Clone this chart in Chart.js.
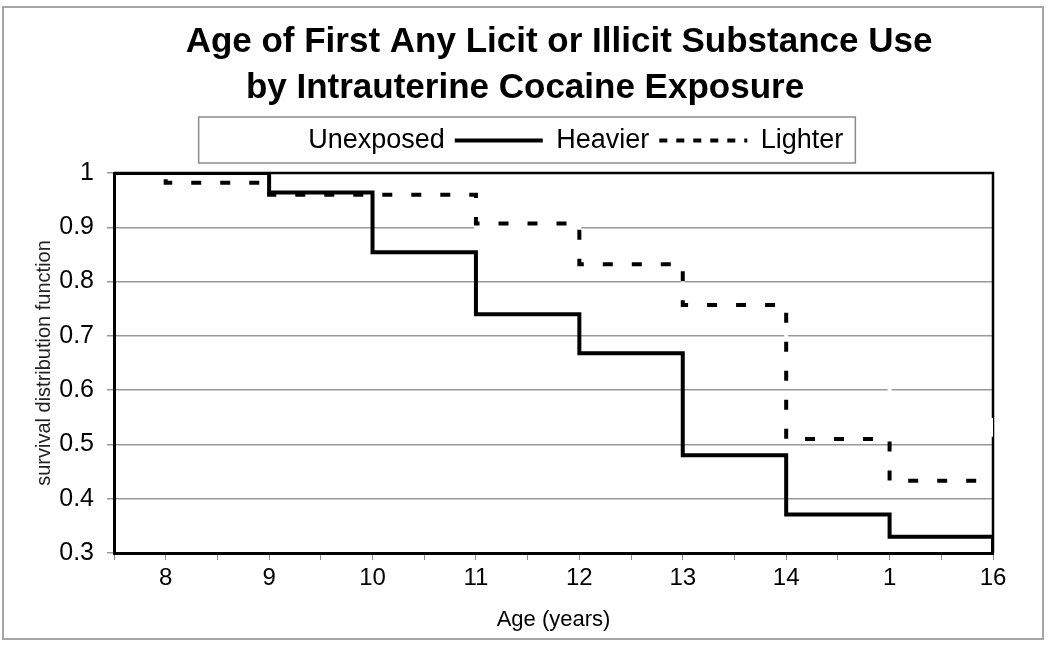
<!DOCTYPE html>
<html>
<head>
<meta charset="utf-8">
<script src="https://cdn.jsdelivr.net/npm/chart.js@4.4.1/dist/chart.umd.min.js"></script>
<style>
html, body { margin: 0; padding: 0; background: #fff; }
canvas { display: block; }
</style>
</head>
<body>
<canvas id="chart" width="1050" height="648"></canvas>
<script>
// survival curves (step drops at each age)
var unexposedAge  = [7.5, 9, 10, 11, 12, 13, 14, 15, 16]
var unexposedSurv = [1, 0.97, 0.95, 0.90, 0.84, 0.76, 0.66, 0.545, 0.514]
var heavierAge    = [7.5, 9, 10, 11, 12, 13, 14, 15, 16]
var heavierSurv   = [1, 0.964, 0.854, 0.74, 0.668, 0.48, 0.371, 0.33, 0.30]
var lighterAge    = [7.5, 8, 9, 11, 12, 13, 14, 15, 16]
var lighterSurv   = [1, 0.982, 0.96, 0.907, 0.832, 0.757, 0.51, 0.433, 0.433]

var ageTicks      = [8, 9, 10, 11, 12, 13, 14, 15, 16]
var ageTickLabels = ['8', '9', '10', '11', '12', '13', '14', '1', '16']

var FONT = '"Liberation Sans", Arial, sans-serif'

function points(xs, ys) {
	return xs.map(function (x, i) { return { x: x, y: ys[i] } })
}

var frame = {
	id: 'frame'
	, beforeDraw: function (chart) {
		var c = chart.ctx
		c.save()
		c.fillStyle = '#fff'
		c.fillRect(0, 0, chart.width, chart.height)
		c.strokeStyle = '#a6a6a6'
		c.lineWidth = 2
		c.strokeRect(3, 7, 1040, 632)
		// box round the legend
		var boxes = chart.legend.legendHitBoxes
		if (boxes && boxes.length) {
			var first = boxes[0], last = boxes[boxes.length - 1]
			c.strokeStyle = '#8c8c8c'
			c.lineWidth = 1.5
			c.strokeRect(first.left - 8, chart.legend.top, last.left + last.width + 12 - (first.left - 8), chart.legend.height - 1)
		}
		c.restore()
	}
	, beforeDatasetsDraw: function (chart) {
		var a = chart.chartArea, c = chart.ctx
		c.save()
		c.strokeStyle = '#000'
		c.lineWidth = 2.5
		c.beginPath()
		c.moveTo(a.left, a.top)
		c.lineTo(a.right, a.top)
		c.lineTo(a.right, a.bottom)
		c.stroke()
		c.restore()
	}
}

var chart = new Chart(document.getElementById('chart'), {
	type: 'line',
	data: {
		datasets: [
			{ label: 'Unexposed', data: points(unexposedAge, unexposedSurv), borderColor: '#fff', backgroundColor: '#fff', borderWidth: 4, stepped: true, pointRadius: 0, fill: false, order: 3 },
			{ label: 'Heavier', data: points(heavierAge, heavierSurv), borderColor: '#000', backgroundColor: '#000', borderWidth: 4, stepped: true, pointRadius: 0, fill: false, order: 2 },
			{ label: 'Lighter', data: points(lighterAge, lighterSurv), borderColor: '#000', backgroundColor: '#000', borderWidth: 4, borderDash: [10, 19], stepped: true, pointRadius: 0, fill: false, order: 1 }
		]
	},
	options: {
		responsive: false,
		animation: false,
		layout: { padding: 0 },
		plugins: {
			tooltip: { enabled: false },
			title: {
				display: true,
				text: ['       Age of First Any Licit or Illicit Substance Use', 'by Intrauterine Cocaine Exposure'],
				color: '#000',
				font: { family: FONT, size: 35, weight: 'bold', lineHeight: 1.3 },
				padding: { top: 20, bottom: 6 }
			},
			legend: {
				position: 'top',
				labels: {
					color: '#000',
					font: { family: FONT, size: 27 },
					usePointStyle: true,
					pointStyle: 'line',
					pointStyleWidth: 88,
					padding: 10,
					sort: function (a, b) { return a.datasetIndex - b.datasetIndex },
					generateLabels: function (chart) {
						return Chart.defaults.plugins.legend.labels.generateLabels(chart).map(function (item) {
							var ds = chart.data.datasets[item.datasetIndex]
							item.lineWidth = 4
							item.strokeStyle = ds.borderColor
							item.lineDash = ds.borderDash ? [8, 9] : []
							return item
						})
					}
				}
			}
		},
		scales: {
			x: {
				type: 'linear',
				min: 7.5,
				max: 16,
				afterFit: function (scale) { scale.height = 95 },
				ticks: {
					stepSize: 0.5,
					autoSkip: false,
					maxRotation: 0,
					color: '#000',
					padding: 4,
					font: { family: FONT, size: 24 },
					callback: function (value) {
						var i = ageTicks.indexOf(value)
						return i < 0 ? '' : ageTickLabels[i]
					}
				},
				grid: { drawOnChartArea: false, color: '#888', lineWidth: 1, tickLength: 7 },
				border: { color: '#000', width: 3 },
				title: {
					display: true,
					text: 'Age (years)',
					color: '#000',
					font: { family: FONT, size: 22 },
					padding: { top: 0, bottom: 15 }
				}
			},
			// empty top and right bands, only there to place the plot area
			xTop: {
				type: 'linear', position: 'top', min: 7.5, max: 16,
				afterFit: function (scale) { scale.height = 9 },
				ticks: { display: false }, grid: { display: false }, border: { display: false }
			},
			yRight: {
				type: 'linear', position: 'right', min: 0.3, max: 1,
				afterFit: function (scale) { scale.width = 57 },
				ticks: { display: false }, grid: { display: false }, border: { display: false }
			},
			y: {
				min: 0.3,
				max: 1,
				afterFit: function (scale) { scale.width = 114 },
				ticks: {
					stepSize: 0.1,
					color: '#000',
					padding: 13,
					font: { family: FONT, size: 25 },
					callback: function (value) { return value == 1 ? '1' : value.toFixed(1) }
				},
				grid: { color: '#999', lineWidth: 1.5, tickLength: 7, tickColor: '#999' },
				border: { color: '#000', width: 3 },
				title: {
					display: true,
					text: 'survival distribution function',
					color: '#222',
					font: { family: FONT, size: 20 },
					padding: { top: 32, bottom: 0 }
				}
			}
		}
	},
	plugins: [frame]
})
</script>
</body>
</html>
